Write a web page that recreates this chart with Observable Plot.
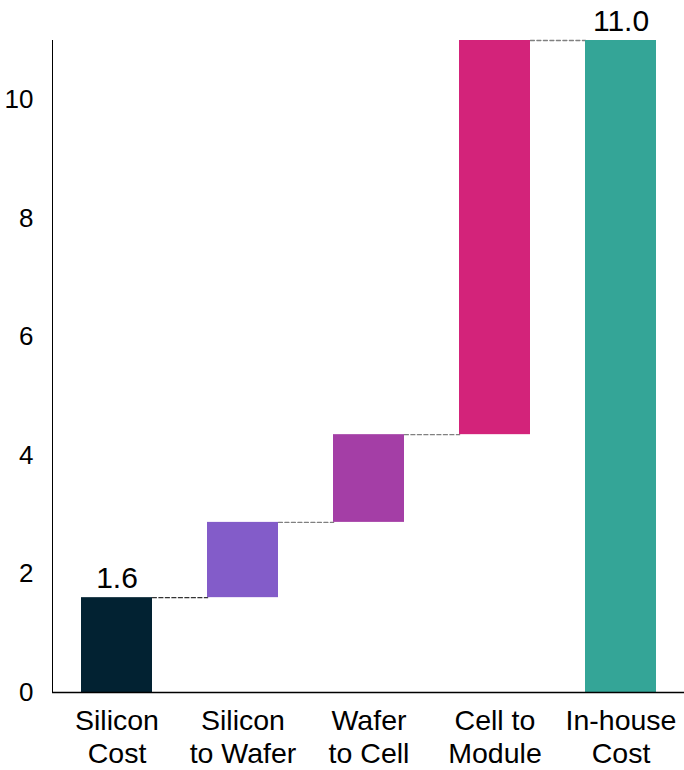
<!DOCTYPE html>
<html>
<head>
<meta charset="utf-8">
<script src="https://cdn.jsdelivr.net/npm/d3@7"></script>
<script src="https://cdn.jsdelivr.net/npm/@observablehq/plot@0.6"></script>
<style>
  html, body { margin: 0; padding: 0; background: #fff; }
  #chart { width: 684px; height: 770px; }
</style>
</head>
<body>
<div id="chart"></div>
<script>
// Cost build-up, step by step
const categories = ["Silicon\nCost", "Silicon\nto Wafer", "Wafer\nto Cell", "Cell to\nModule", "In-house\nCost"];
const increments = [1.6, 1.27, 1.48, 6.65];   // added cost of each stage
const totalCost = 11.0;                        // final in-house cost
const barColors = ["#022232", "#835CC9", "#A43EA6", "#D3237A", "#34A597"];
const labelled = ["Silicon\nCost", "In-house\nCost"];
const yTicks = [0, 2, 4, 6, 8, 10];

// floating bars for each stage, then the total bar from zero
const rows = [];
let running = 0;
increments.forEach((v, i) => {
  rows.push({cat: categories[i], y1: running, y2: running + v, value: v, color: barColors[i]});
  running += v;
});
rows.push({cat: categories[4], y1: 0, y2: totalCost, value: totalCost, color: barColors[4]});

// dashed connectors joining the top of each bar to the next one
const connectors = rows.slice(0, -1).map((r, i) => ({from: r.cat, to: rows[i + 1].cat, y: r.y2}));

const W = 684, H = 770, mL = 52, mR = 0;
const padInner = 0.44, padOuter = 0.22;
const step = (W - mL - mR) / (categories.length - padInner + 2 * padOuter);
const halfBand = step * (1 - padInner) / 2;

const fmt = d3.format(".1f");

const chart = Plot.plot({
  width: W,
  height: H,
  marginLeft: mL,
  marginRight: mR,
  marginTop: 40,
  marginBottom: 78,
  style: {fontFamily: "'Liberation Sans', Arial, sans-serif", fontSize: "26px", color: "#000", background: "#fff"},
  x: {domain: categories, paddingInner: padInner, paddingOuter: padOuter, axis: null},
  y: {domain: [0, 11], ticks: yTicks, tickSize: 0, tickPadding: 19, label: null, line: true},
  color: {type: "identity"},
  marks: [
    Plot.arrow(connectors.slice(0, 1), {
      x1: "from", x2: "to", y1: "y", y2: "y", bend: 0, headLength: 0,
      insetStart: halfBand, insetEnd: halfBand,
      stroke: "#333", strokeWidth: 1.3, strokeDasharray: "4,2.5"
    }),
    Plot.arrow(connectors.slice(1), {
      x1: "from", x2: "to", y1: "y", y2: "y", bend: 0, headLength: 0,
      insetStart: halfBand, insetEnd: halfBand,
      stroke: "#808080", strokeWidth: 1.3, strokeDasharray: "4,2.5"
    }),
    Plot.barY(rows, {x: "cat", y1: "y1", y2: "y2", fill: "color"}),
    Plot.ruleY([0], {stroke: "#000", strokeWidth: 1.3}),
    Plot.text(rows.filter(d => labelled.includes(d.cat)), {
      x: "cat", y: "y2", text: d => fmt(d.value),
      lineAnchor: "bottom", dy: -10, fontSize: 30, fill: "#000"
    }),
    Plot.text(categories, {
      x: d => d, frameAnchor: "bottom", lineAnchor: "top",
      dy: 13, lineHeight: 1.19, fontSize: 28.5, fill: "#000"
    })
  ]
});

document.getElementById("chart").appendChild(chart);
</script>
</body>
</html>
